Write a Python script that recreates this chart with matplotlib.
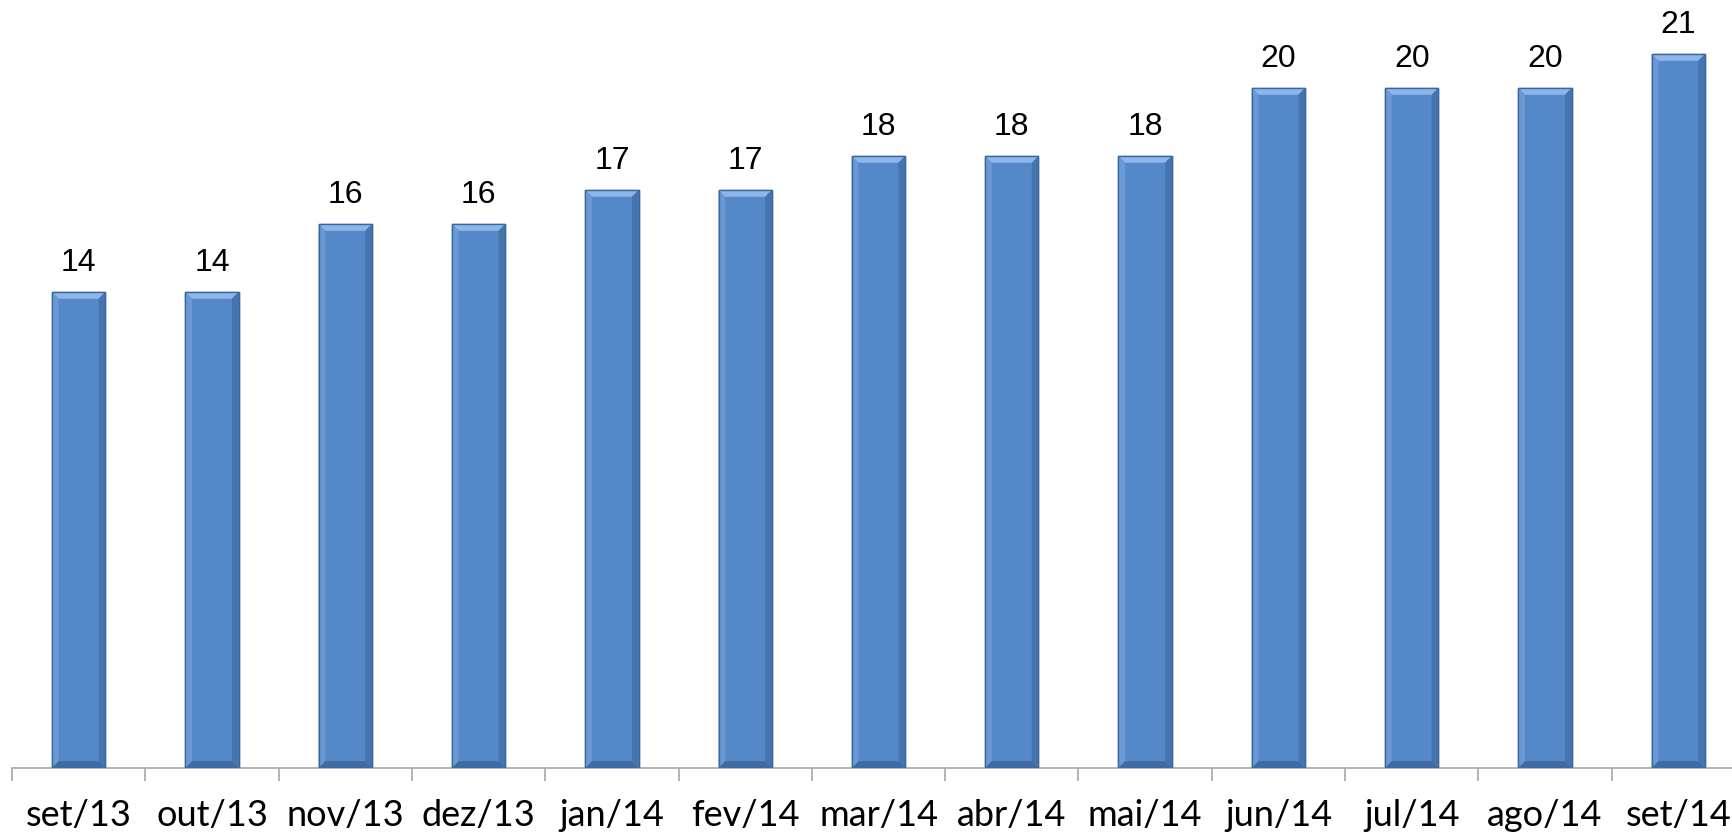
import matplotlib
matplotlib.use('Agg')
import matplotlib.pyplot as plt
from matplotlib.patches import Polygon

months = ['set/13', 'out/13', 'nov/13', 'dez/13', 'jan/14', 'fev/14', 'mar/14',
          'abr/14', 'mai/14', 'jun/14', 'jul/14', 'ago/14', 'set/14']
values = [14, 14, 16, 16, 17, 17, 18, 18, 18, 20, 20, 20, 21]

fig = plt.figure(figsize=(17.32, 8.32), dpi=100)
ax = fig.add_axes([12 / 1732, 64 / 832, 1733 / 1732, 768 / 832])

x = list(range(len(months)))
bars = ax.bar(x, values, width=0.4, color='#5588C9', edgecolor='#3B689C', linewidth=1.0, zorder=2)

# bevel look: lighter top, darker right side
bx = 0.05
by = 0.2
for b in bars:
    x0 = b.get_x()
    x1 = x0 + b.get_width()
    h = b.get_height()
    ax.add_patch(Polygon([(x0, h), (x1, h), (x1 - bx, h - by), (x0 + bx, h - by)],
                         closed=True, facecolor='#8DB6EA', edgecolor='none', zorder=3))
    ax.add_patch(Polygon([(x1, h), (x1, 0), (x1 - bx, by), (x1 - bx, h - by)],
                         closed=True, facecolor='#4674AE', edgecolor='none', zorder=3))
    ax.add_patch(Polygon([(x0, h), (x0, 0), (x0 + bx, by), (x0 + bx, h - by)],
                         closed=True, facecolor='#6A99D6', edgecolor='none', zorder=3))
    ax.add_patch(Polygon([(x0, 0), (x1, 0), (x1 - bx, by), (x0 + bx, by)],
                         closed=True, facecolor='#3F6BA3', edgecolor='none', zorder=3))
    ax.add_patch(plt.Rectangle((x0, 0), b.get_width(), h, fill=False,
                               edgecolor='#3B689C', linewidth=1.0, zorder=4))
    ax.text(b.get_x() + b.get_width() / 2, h + 0.4, str(int(h)), ha='center', va='bottom',
            fontsize=23, family='Liberation Sans', color='black')

ax.set_xlim(-0.5, len(months) - 0.5)
ax.set_ylim(0, 768 / 34.0)

for s in ['left', 'right', 'top']:
    ax.spines[s].set_visible(False)
ax.spines['bottom'].set_color('#A6A6A6')
ax.spines['bottom'].set_linewidth(1.2)

ax.set_yticks([])
ax.set_xticks(x)
ax.set_xticklabels(months, fontsize=26, family='Lato')
ax.tick_params(axis='x', which='major', length=0, pad=22)
ax.set_xticks([i - 0.5 for i in range(len(months) + 1)], minor=True)
ax.tick_params(axis='x', which='minor', length=9, width=1.2, color='#A6A6A6')

plt.savefig('out.png', dpi=100)
